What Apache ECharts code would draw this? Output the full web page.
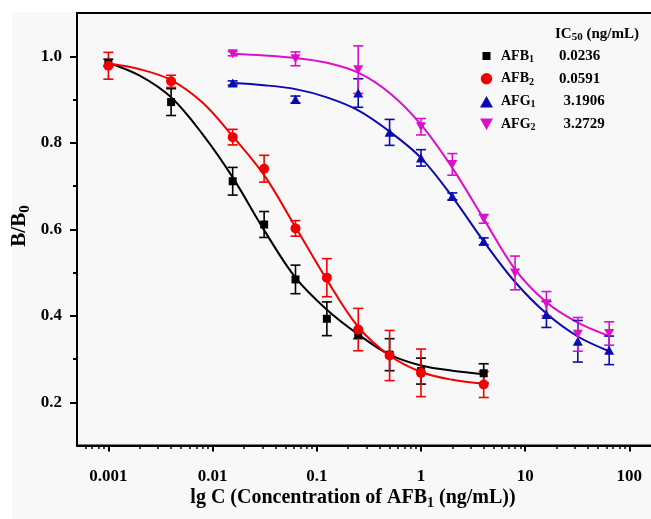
<!DOCTYPE html>
<html><head><meta charset="utf-8">
<script src="https://cdn.jsdelivr.net/npm/echarts@6/dist/echarts.min.js"></script>
<style>html,body{margin:0;padding:0;background:#fff}#c{width:651px;height:519px}</style>
</head><body><div id="c"></div>
<script>
const FONT = '"Liberation Serif","Times New Roman",serif';

// ---- measured points (concentration ng/mL, mean B/B0, SD) ----
const concAFB1 = [0.001, 0.004, 0.0156, 0.03125, 0.0625, 0.125, 0.25, 0.5, 1, 4];
const meanAFB1 = [0.985, 0.894, 0.711, 0.611, 0.484, 0.393, 0.357, 0.310, 0.272, 0.267];
const sdAFB1   = [0.008, 0.031, 0.032, 0.030, 0.033, 0.039, 0.010, 0.037, 0.030, 0.022];

const concAFB2 = [0.001, 0.004, 0.0156, 0.03125, 0.0625, 0.125, 0.25, 0.5, 1, 4];
const meanAFB2 = [0.978, 0.942, 0.813, 0.740, 0.602, 0.488, 0.368, 0.308, 0.268, 0.241];
const sdAFB2   = [0.031, 0.014, 0.018, 0.031, 0.018, 0.044, 0.049, 0.058, 0.055, 0.030];

const concAFG1 = [0.0156, 0.0625, 0.25, 0.5, 1, 2, 4, 16, 32, 64];
const meanAFG1 = [0.938, 0.900, 0.915, 0.824, 0.765, 0.676, 0.572, 0.403, 0.341, 0.320];
const sdAFG1   = [0.005, 0.008, 0.033, 0.030, 0.019, 0.008, 0.008, 0.030, 0.048, 0.033];

const concAFG2 = [0.0156, 0.0625, 0.25, 1, 2, 4, 8, 16, 32, 64];
const meanAFG2 = [1.006, 0.994, 0.969, 0.837, 0.750, 0.624, 0.499, 0.428, 0.357, 0.359];
const sdAFG2   = [0.005, 0.016, 0.055, 0.019, 0.025, 0.010, 0.039, 0.028, 0.039, 0.027];

// ---- fitted curves ----
const fitConcB = [0.001, 0.002, 0.004, 0.008, 0.0156, 0.03125, 0.0625, 0.125, 0.25, 0.5, 1, 2, 4];
const fitAFB1  = [0.985, 0.955, 0.905, 0.820, 0.720, 0.598, 0.488, 0.414, 0.357, 0.310, 0.285, 0.273, 0.265];
const fitAFB2  = [0.983, 0.970, 0.945, 0.893, 0.815, 0.725, 0.605, 0.483, 0.374, 0.308, 0.270, 0.252, 0.243];
const fitConcG = [0.0156, 0.03125, 0.0625, 0.125, 0.25, 0.5, 1, 2, 4, 8, 16, 32, 64];
const fitAFG1  = [0.938, 0.933, 0.924, 0.905, 0.875, 0.826, 0.765, 0.675, 0.572, 0.478, 0.405, 0.352, 0.318];
const fitAFG2  = [1.006, 1.002, 0.996, 0.985, 0.962, 0.915, 0.842, 0.742, 0.624, 0.507, 0.431, 0.384, 0.353];

// ---- legend / labels ----
const legendNames = ['AFB1', 'AFB2', 'AFG1', 'AFG2'];
const legendBase  = ['AFB', 'AFB', 'AFG', 'AFG'];
const legendSub   = ['1', '2', '1', '2'];
const ic50Values  = ['0.0236', '0.0591', '3.1906', '3.2729'];
const xTickExp    = [-3, -2, -1, 0, 1, 2];
const xTickLabels = ['0.001', '0.01', '0.1', '1', '10', '100'];
const yTickValues = [0.2, 0.4, 0.6, 0.8, 1.0];
const yMinorValues = [0.3, 0.5, 0.7, 0.9];

const colors = ['#000000', '#f20000', '#0a0ab0', '#dc0fca'];

const X_MIN = Math.log10(0.0005), X_MAX = Math.log10(200);
const xMinor = [];
for (let d = -4; d <= 2; d++) for (let m = 2; m <= 9; m++) {
  const v = Math.log10(m * Math.pow(10, d));
  if (v > X_MIN && v < X_MAX) xMinor.push(v);
}

const lg = Math.log10;
function pts(c, y) { return c.map((x, i) => [lg(x), y[i]]); }
function errs(c, y, s) { return c.map((x, i) => [lg(x), y[i], s[i]]); }

const invTri = 'path://M0,0 L10,0 L5,9 Z';
const symbols = ['rect', 'circle', 'triangle', invTri];
const symSizes = [8, 10, [10, 9], [10, 9]];
const legendIcons = [
  'path://M0,0 M13,13 M2.5,2.5 L10.5,2.5 L10.5,10.5 L2.5,10.5 Z',
  'path://M0,0 M13,13 M6.5,0.8 A5.7,5.7 0 1 1 6.49,0.8 Z',
  'path://M0,0 M13,13 M0,12.5 L6.5,1 L13,12.5 Z',
  'path://M0,0 M13,13 M0,1 L13,1 L6.5,12.5 Z'
];

const sets = [
  [concAFB1, meanAFB1, sdAFB1, fitConcB, fitAFB1],
  [concAFB2, meanAFB2, sdAFB2, fitConcB, fitAFB2],
  [concAFG1, meanAFG1, sdAFG1, fitConcG, fitAFG1],
  [concAFG2, meanAFG2, sdAFG2, fitConcG, fitAFG2]
];

const series = [];
sets.forEach((s, i) => {
  series.push({
    name: legendNames[i] + ' fit', type: 'line', data: pts(s[3], s[4]),
    smooth: 0.35, showSymbol: false, symbol: 'none', z: 2,
    lineStyle: { color: colors[i], width: 2 }, silent: true
  });
});
sets.forEach((s, i) => {
  const col = colors[i];
  series.push({
    name: legendNames[i] + ' err', type: 'custom', data: errs(s[0], s[1], s[2]), z: 3, silent: true,
    renderItem: function (params, api) {
      const x = api.value(0), y = api.value(1), e = api.value(2);
      const t = api.coord([x, y + e]), b = api.coord([x, y - e]);
      const w = 5, st = { stroke: col, lineWidth: 1.6 };
      return { type: 'group', children: [
        { type: 'line', shape: { x1: t[0], y1: t[1], x2: b[0], y2: b[1] }, style: st },
        { type: 'line', shape: { x1: t[0] - w, y1: t[1], x2: t[0] + w, y2: t[1] }, style: st },
        { type: 'line', shape: { x1: b[0] - w, y1: b[1], x2: b[0] + w, y2: b[1] }, style: st }
      ]};
    }
  });
});
sets.forEach((s, i) => {
  series.push({
    name: legendNames[i], type: 'scatter', data: pts(s[0], s[1]), z: 4,
    symbol: symbols[i], symbolSize: symSizes[i],
    itemStyle: { color: colors[i], opacity: 1 }
  });
});

const richBase = { fontFamily: FONT, fontWeight: 'bold', color: '#000' };
const chart = echarts.init(document.getElementById('c'), null, { renderer: 'canvas' });
chart.setOption({
  animation: false,
  backgroundColor: '#ffffff',
  grid: { left: 77, top: 13, width: (X_MAX - X_MIN) * 104.2, height: 432.5,
          show: true, borderColor: '#000', borderWidth: 2, backgroundColor: 'transparent',
          outerBoundsMode: 'none', containLabel: false },
  xAxis: [{
    type: 'value', min: X_MIN, max: X_MAX, position: 'bottom',
    axisLine: { show: true, onZero: false, lineStyle: { color: '#000', width: 2 } },
    axisTick: { show: true, inside: false, length: 6, customValues: xTickExp, lineStyle: { color: '#000', width: 2 } },
    axisLabel: { show: true, customValues: xTickExp, margin: 23,
      formatter: v => xTickLabels[xTickExp.indexOf(Math.round(v))] || '',
      fontFamily: FONT, fontWeight: 'bold', fontSize: 17, color: '#000' },
    splitLine: { show: false }
  }, {
    type: 'value', min: X_MIN, max: X_MAX, position: 'bottom',
    axisLine: { show: false, onZero: false },
    axisTick: { show: true, inside: false, length: 3.5, customValues: xMinor, lineStyle: { color: '#000', width: 1.5 } },
    axisLabel: { show: false }, splitLine: { show: false }
  }],
  yAxis: [{
    type: 'value', min: 0.1, max: 1.1, position: 'left',
    axisLine: { show: true, onZero: false, lineStyle: { color: '#000', width: 2 } },
    axisTick: { show: true, inside: false, length: 7, customValues: yTickValues, lineStyle: { color: '#000', width: 2 } },
    axisLabel: { show: true, customValues: yTickValues, margin: 15, formatter: v => v.toFixed(1),
      fontFamily: FONT, fontWeight: 'bold', fontSize: 17, color: '#000' },
    splitLine: { show: false }
  }, {
    type: 'value', min: 0.1, max: 1.1, position: 'left',
    axisLine: { show: false, onZero: false },
    axisTick: { show: true, inside: false, length: 4, customValues: yMinorValues, lineStyle: { color: '#000', width: 2 } },
    axisLabel: { show: false }, splitLine: { show: false }
  }],
  legend: {
    orient: 'vertical', left: 480, top: 47.5, padding: 0, itemWidth: 13, itemHeight: 13, itemGap: 5.7,
    selectedMode: false,
    data: legendNames.map((n, i) => ({ name: n, icon: legendIcons[i], itemStyle: { color: colors[i] } })),
    formatter: name => {
      const i = legendNames.indexOf(name);
      return '{n|' + legendBase[i] + '}{s|' + legendSub[i] + '}{' + (i < 2 ? 'v' : 'w') + '|' + ic50Values[i] + '}';
    },
    textStyle: {
      rich: {
        n: Object.assign({ fontSize: 14, lineHeight: 16, padding: [0, 0, 0, 3] }, richBase),
        s: Object.assign({ fontSize: 10, lineHeight: 16, padding: [7, 0, 0, 0], width: 30 }, richBase),
        v: Object.assign({ fontSize: 15, lineHeight: 16 }, richBase),
        w: Object.assign({ fontSize: 15, lineHeight: 16, padding: [0, 0, 0, 3] }, richBase)
      }
    }
  },
  graphic: [
    { type: 'rect', z: -10, silent: true, shape: { x: 12, y: 12, width: 639, height: 507 }, style: { fill: '#f8f8f8' } },
    { type: 'text', x: 353, y: 498, silent: true, style: {
        text: '{a|lg C (Concentration of AFB}{s|1}{a| (ng/mL))}', align: 'center', verticalAlign: 'middle',
        rich: {
          a: { fontFamily: FONT, fontWeight: 'bold', fontSize: 20, fill: '#000', lineHeight: 22 },
          s: { fontFamily: FONT, fontWeight: 'bold', fontSize: 14, fill: '#000', lineHeight: 16, padding: [10, 0, 0, 0] }
        } } },
    { type: 'text', x: 20, y: 226, rotation: Math.PI / 2, silent: true, style: {
        text: '{a|B/B}{s|0}', align: 'center', verticalAlign: 'middle',
        rich: {
          a: { fontFamily: FONT, fontWeight: 'bold', fontSize: 21, fill: '#000', lineHeight: 22 },
          s: { fontFamily: FONT, fontWeight: 'bold', fontSize: 15, fill: '#000', lineHeight: 16, padding: [10, 0, 0, 0] }
        } } },
    { type: 'text', x: 555, y: 34, silent: true, style: {
        text: '{a|IC}{s|50}{a| (ng/mL)}', align: 'left', verticalAlign: 'middle',
        rich: {
          a: { fontFamily: FONT, fontWeight: 'bold', fontSize: 15, fill: '#000', lineHeight: 16 },
          s: { fontFamily: FONT, fontWeight: 'bold', fontSize: 11, fill: '#000', lineHeight: 14, padding: [7, 0, 0, 0] }
        } } }
  ],
  series: series
});
</script></body></html>
